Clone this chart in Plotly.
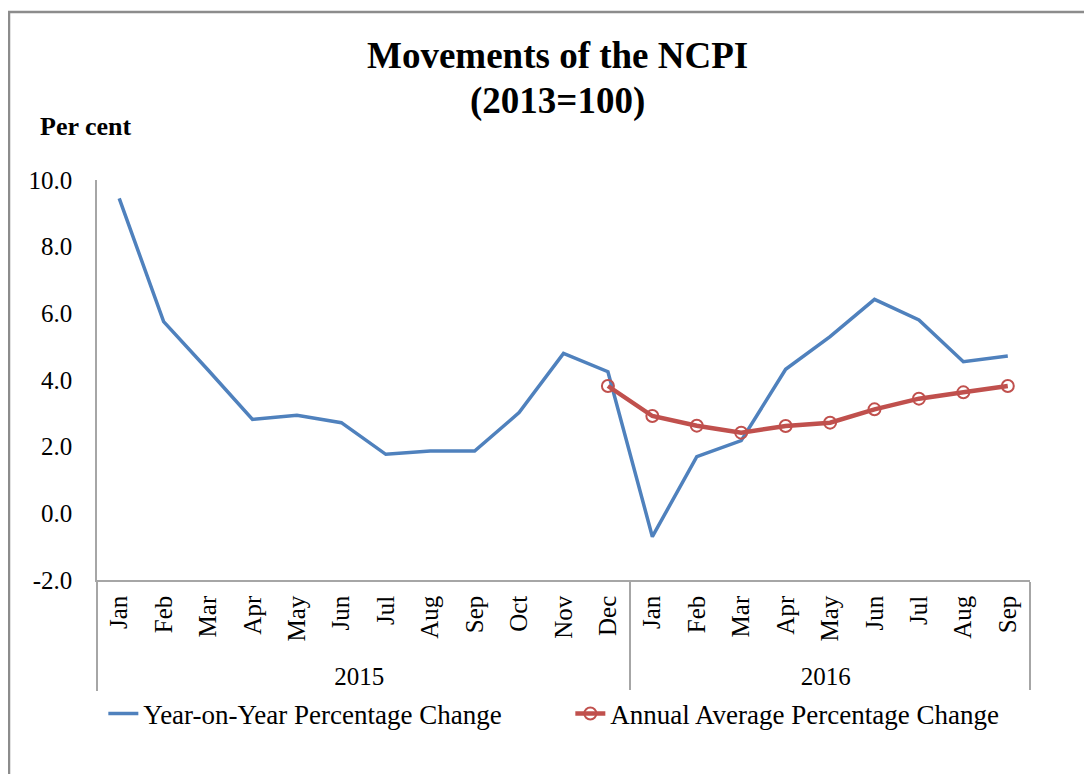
import plotly.graph_objects as go

years = ["2015"] * 12 + ["2016"] * 9
months = ["Jan", "Feb", "Mar", "Apr", "May", "Jun", "Jul", "Aug", "Sep", "Oct", "Nov", "Dec",
          "Jan", "Feb", "Mar", "Apr", "May", "Jun", "Jul", "Aug", "Sep"]
yoy = [9.45, 5.75, 4.3, 2.82, 2.94, 2.72, 1.77, 1.87, 1.87, 3.02, 4.8, 4.25,
       -0.7, 1.7, 2.18, 4.32, 5.3, 6.42, 5.8, 4.55, 4.72]
annual_avg = [None] * 11 + [3.82, 2.92, 2.63, 2.42, 2.62, 2.72, 3.12, 3.44, 3.63, 3.82]
y_ticks = [-2, 0, 2, 4, 6, 8, 10]
y_tick_text = ["-2.0", "0.0", "2.0", "4.0", "6.0", "8.0", "10.0"]

FONT = "Liberation Serif"
OFF = 8  # page body margin
W, H = 1092, 774
L, R, T, B = 97 - OFF, W - (1030 - OFF), 180 - OFF, H - (580 - OFF)
pw, ph = W - L - R, H - T - B


def px_x(sx):
    return (sx - OFF - L) / pw


def px_y(sy):
    return (H - B - (sy - OFF)) / ph


fig = go.Figure()
fig.add_trace(go.Scatter(
    x=[years, months], y=yoy, mode="lines", name="Year-on-Year Percentage Change",
    line=dict(color="#4F81BD", width=3.5),
))
fig.add_trace(go.Scatter(
    x=[years, months], y=annual_avg, mode="lines+markers", name="Annual Average Percentage Change",
    line=dict(color="#C0504D", width=4.5),
    marker=dict(symbol="circle-open", size=12, color="#C0504D", line=dict(width=2)),
))

fig.update_layout(
    width=W, height=H,
    margin=dict(l=L, r=R, t=T, b=B),
    paper_bgcolor="white", plot_bgcolor="white",
    font=dict(family=FONT, color="black", size=24),
    showlegend=True,
    legend=dict(orientation="h", x=px_x(108) - 0.005, xanchor="left", y=px_y(714), yanchor="middle",
                font=dict(size=27, family=FONT), entrywidth=422, traceorder="normal"),
    annotations=[
        dict(text="<b>Movements of the NCPI</b>", x=px_x(557), y=px_y(56), xref="paper", yref="paper",
             showarrow=False, yanchor="middle", font=dict(size=37, family=FONT)),
        dict(text="<b>(2013=100)</b>", x=px_x(557), y=px_y(101), xref="paper", yref="paper",
             showarrow=False, yanchor="middle", font=dict(size=37, family=FONT)),
        dict(text="<b>Per cent</b>", x=px_x(38), y=px_y(126), xref="paper", yref="paper",
             showarrow=False, xanchor="left", yanchor="middle", font=dict(size=26, family=FONT)),
    ],
)

fig.update_yaxes(range=[-2, 10], tickvals=y_ticks, ticktext=y_tick_text, showgrid=False,
                 zeroline=False, showline=True, linecolor="#A6A6A6", linewidth=1.5,
                 ticks="", ticklabelstandoff=18, tickfont=dict(size=25, family=FONT))
fig.update_xaxes(range=[-0.5, 20.5], showgrid=False, showline=True, linecolor="#A6A6A6", linewidth=1.5,
                 ticks="", tickangle=-90, tickfont=dict(size=25, family=FONT), ticklabelstandoff=4,
                 showdividers=True, dividercolor="#A6A6A6", dividerwidth=1.5)

fig.add_shape(type="rect", xref="paper", yref="paper",
              x0=px_x(9), x1=px_x(1110), y0=px_y(800), y1=px_y(12),
              line=dict(color="#8C8C8C", width=2.5), layer="below")

fig.write_html("out.html")
